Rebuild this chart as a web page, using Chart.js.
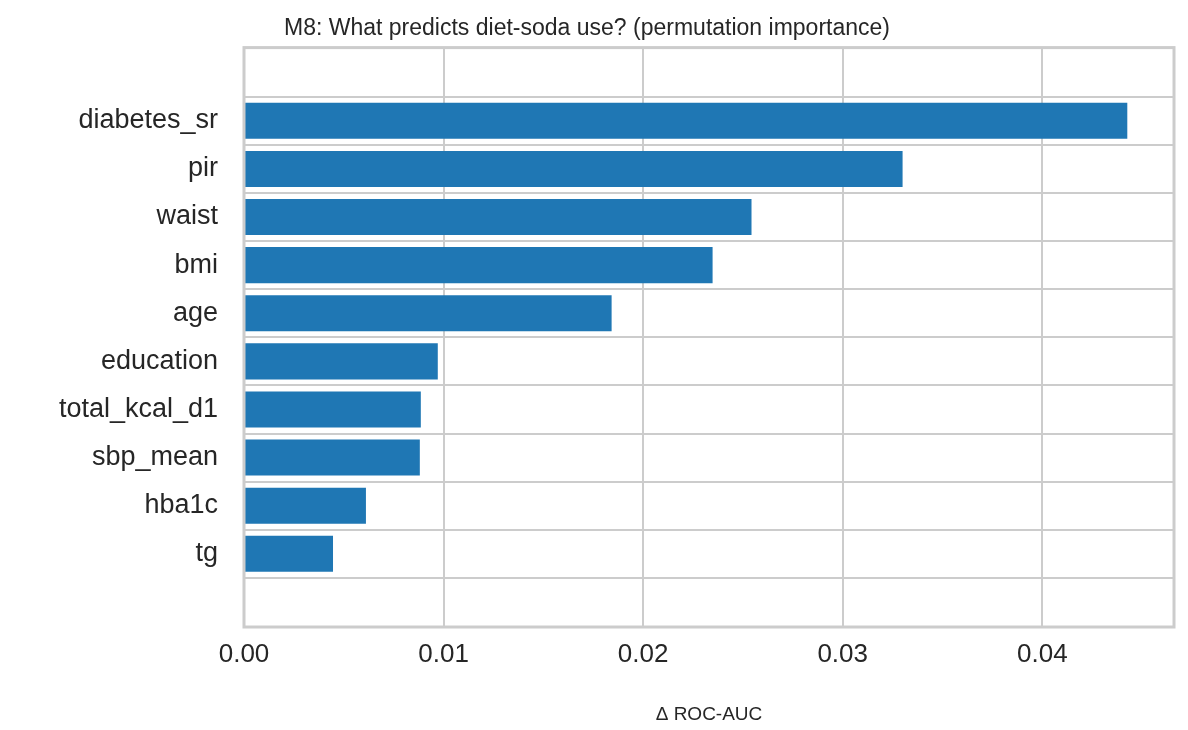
<!DOCTYPE html>
<html>
<head>
<meta charset="utf-8">
<script src="https://cdn.jsdelivr.net/npm/chart.js@4/dist/chart.umd.min.js"></script>
<style>
  body { margin: 0; background: #fff; }
  #wrap { width: 1188px; height: 730px; }
</style>
</head>
<body>
<div id="wrap"><canvas id="graphique"></canvas></div>
<script>
// Données
const features = ['diabetes_sr', 'pir', 'waist', 'bmi', 'age', 'education', 'total_kcal_d1', 'sbp_mean', 'hba1c', 'tg'];
const importance = [0.04426, 0.0330, 0.02543, 0.02348, 0.01842, 0.00971, 0.00886, 0.00881, 0.00611, 0.00446];
const xTicks = [0, 0.01, 0.02, 0.03, 0.04];

const gris = '#cccccc';
const texte = '#262626';
const police = 'Arial, "Liberation Sans", sans-serif';

// Cadre autour de la zone du graphique
const cadre = {
    id: 'cadre',
    afterDatasetsDraw(chart) {
        const { ctx, chartArea: a } = chart;
        ctx.save();
        ctx.strokeStyle = gris;
        ctx.lineWidth = 3;
        ctx.strokeRect(a.left, a.top, a.right - a.left, a.bottom - a.top);
        ctx.restore();
    }
};

new Chart(document.getElementById('graphique'), {
    type: 'bar',
    data: {
        datasets: [{
            data: importance.map((v, i) => ({ x: v, y: i })),
            backgroundColor: '#1f77b4',
            barPercentage: 0.75,
            categoryPercentage: 1
        }]
    },
    options: {
        indexAxis: 'y',
        responsive: true,
        maintainAspectRatio: false,
        animation: false,
        layout: { padding: { right: 14, left: 0 } },
        scales: {
            x: {
                type: 'linear',
                min: 0,
                max: 0.0466,
                afterBuildTicks: s => { s.ticks = xTicks.map(v => ({ value: v })); },
                ticks: {
                    callback: v => v.toFixed(2),
                    color: texte,
                    font: { family: police, size: 26 },
                    padding: 12
                },
                grid: { color: gris, lineWidth: 2, drawTicks: false },
                border: { display: false },
                title: {
                    display: true,
                    text: 'Δ ROC-AUC',
                    color: texte,
                    font: { family: police, size: 19 },
                    padding: { top: 8 }
                },
                afterFit: s => { s.height = 103; }
            },
            y: {
                type: 'linear',
                reverse: true,
                min: -0.92,
                max: 9.92,
                afterBuildTicks: s => { s.ticks = features.map((f, i) => ({ value: i })); },
                ticks: {
                    callback: v => features[v],
                    color: texte,
                    font: { family: police, size: 27 },
                    padding: 26
                },
                grid: { color: gris, lineWidth: 2, drawTicks: false },
                border: { display: false },
                afterFit: s => { s.width = 244; }
            }
        },
        plugins: {
            legend: { display: false },
            tooltip: { enabled: false },
            title: {
                display: true,
                text: 'M8: What predicts diet-soda use? (permutation importance)',
                color: texte,
                font: { family: police, size: 23, weight: 'normal' },
                padding: { top: 15, bottom: 5 }
            }
        }
    },
    plugins: [cadre]
});
</script>
</body>
</html>
